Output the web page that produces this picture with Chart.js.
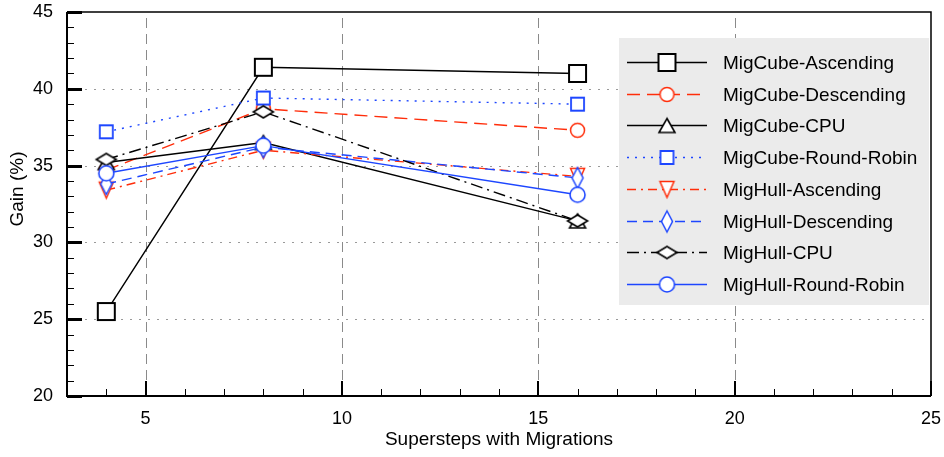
<!DOCTYPE html>
<html>
<head>
<meta charset="utf-8">
<script src="https://cdn.jsdelivr.net/npm/chart.js@4.4.1/dist/chart.umd.min.js"></script>
<style>
  html, body { margin: 0; padding: 0; background: #fff; }
  #chart { display: block; }
</style>
</head>
<body>
<canvas id="chart" width="944" height="457"></canvas>
<script>
// data
const steps = [4, 8, 16];
const seriesNames = [
    'MigCube-Ascending', 'MigCube-Descending', 'MigCube-CPU', 'MigCube-Round-Robin',
    'MigHull-Ascending', 'MigHull-Descending', 'MigHull-CPU', 'MigHull-Round-Robin'
];
const migCubeAscending = [25.5, 41.4, 41.0];
const migCubeDescending = [34.7, 38.7, 37.3];
const migCubeCpu = [35.2, 36.5, 31.4];
const migCubeRoundRobin = [37.2, 39.4, 39.0];
const migHullAscending = [33.4, 36.0, 34.3];
const migHullDescending = [33.8, 36.2, 34.2];
const migHullCpu = [35.4, 38.5, 31.4];
const migHullRoundRobin = [34.5, 36.3, 33.1];
const xTickValues = [5, 10, 15, 20, 25];
const yTickValues = [20, 25, 30, 35, 40, 45];
const xTitle = 'Supersteps with Migrations';
const yTitle = 'Gain (%)';

const allSeries = [
    migCubeAscending, migCubeDescending, migCubeCpu, migCubeRoundRobin,
    migHullAscending, migHullDescending, migHullCpu, migHullRoundRobin
];

const BLACK = '#000000';
const RED = '#ff2d0a';
const BLUE = '#1d46ff';
const FONT = '"Liberation Sans", Arial, Helvetica, sans-serif';

// small canvases used as point styles (and again in the legend)
const makeMarker = (shape, w, h, color, lw) => {
    const c = document.createElement('canvas');
    c.width = Math.ceil(w + lw * 2 + 2);
    c.height = Math.ceil(h + lw * 2 + 2);
    const g = c.getContext('2d');
    g.translate(c.width / 2, c.height / 2);
    g.beginPath();
    if (shape === 'square') {
        g.rect(-w / 2, -h / 2, w, h);
    } else if (shape === 'circle') {
        g.ellipse(0, 0, w / 2, h / 2, 0, 0, Math.PI * 2);
    } else if (shape === 'up') {
        g.moveTo(0, -h / 2); g.lineTo(w / 2, h / 2); g.lineTo(-w / 2, h / 2); g.closePath();
    } else if (shape === 'down') {
        g.moveTo(0, h / 2); g.lineTo(w / 2, -h / 2); g.lineTo(-w / 2, -h / 2); g.closePath();
    } else if (shape === 'diamond') {
        g.moveTo(0, -h / 2); g.lineTo(w / 2, 0); g.lineTo(0, h / 2); g.lineTo(-w / 2, 0); g.closePath();
    }
    g.fillStyle = '#ffffff';
    g.fill();
    g.lineWidth = lw;
    g.strokeStyle = color;
    g.stroke();
    return c;
};

const seriesStyles = [
    { color: BLACK, dash: [], marker: makeMarker('square', 17, 17, BLACK, 2) },
    { color: RED, dash: [13, 7], marker: makeMarker('circle', 14, 14, RED, 1.5) },
    { color: BLACK, dash: [], marker: makeMarker('up', 16, 14, BLACK, 1.6) },
    { color: BLUE, dash: [2, 6], marker: makeMarker('square', 13, 13, BLUE, 1.8) },
    { color: RED, dash: [9, 5, 2, 5], marker: makeMarker('down', 14, 16, RED, 1.5) },
    { color: BLUE, dash: [10, 6], marker: makeMarker('diamond', 11, 21, BLUE, 1.5) },
    { color: BLACK, dash: [12, 5, 2, 5], marker: makeMarker('diamond', 20, 12, BLACK, 1.6) },
    { color: BLUE, dash: [], marker: makeMarker('circle', 15, 15, BLUE, 1.6) }
];

const datasets = allSeries.map((values, i) => ({
    label: seriesNames[i],
    data: steps.map((x, j) => ({ x: x, y: values[j] })),
    borderColor: seriesStyles[i].color,
    borderWidth: 1.4,
    borderDash: seriesStyles[i].dash,
    pointStyle: seriesStyles[i].marker,
    pointRadius: 5,
    fill: false,
    tension: 0,
    clip: false,
    order: allSeries.length - 1 - i
}));

// grid, ticks and the box around the plot
const framePlugin = {
    id: 'frame',
    beforeDatasetsDraw(chart) {
        const { ctx, chartArea: a, scales: { x, y } } = chart;
        ctx.save();
        ctx.strokeStyle = '#8a8a8a';
        ctx.lineWidth = 1;
        ctx.setLineDash([10, 6]);
        xTickValues.filter(v => v < x.max).forEach(v => {
            const px = Math.round(x.getPixelForValue(v)) + 0.5;
            ctx.beginPath(); ctx.moveTo(px, a.bottom); ctx.lineTo(px, a.top); ctx.stroke();
        });
        ctx.strokeStyle = '#9a9a9a';
        ctx.setLineDash([2, 7]);
        yTickValues.filter(v => v > y.min && v < y.max).forEach(v => {
            const py = Math.round(y.getPixelForValue(v)) + 0.5;
            ctx.beginPath(); ctx.moveTo(a.left, py); ctx.lineTo(a.right, py); ctx.stroke();
        });
        ctx.setLineDash([]);

        ctx.strokeStyle = BLACK;
        ctx.lineWidth = 1;
        for (let v = Math.ceil(x.min); v <= x.max; v++) {
            if (v % 5 === 0) continue;
            const px = Math.round(x.getPixelForValue(v)) + 0.5;
            ctx.beginPath(); ctx.moveTo(px, a.bottom); ctx.lineTo(px, a.bottom - 7); ctx.stroke();
        }
        for (let v = y.min + 1; v < y.max; v++) {
            if (v % 5 === 0) continue;
            const py = Math.round(y.getPixelForValue(v)) + 0.5;
            ctx.beginPath(); ctx.moveTo(a.left, py); ctx.lineTo(a.left + 7, py); ctx.stroke();
        }
        ctx.lineWidth = 3;
        yTickValues.forEach(v => {
            const py = Math.round(y.getPixelForValue(v)) + 0.5;
            ctx.beginPath(); ctx.moveTo(a.left, py); ctx.lineTo(a.left + 15, py); ctx.stroke();
        });
        ctx.lineWidth = 2;
        xTickValues.forEach(v => {
            const px = Math.round(x.getPixelForValue(v));
            ctx.beginPath(); ctx.moveTo(px, a.bottom); ctx.lineTo(px, a.bottom - 15); ctx.stroke();
        });

        ctx.lineWidth = 1.5;
        ctx.beginPath();
        ctx.moveTo(a.left, a.top); ctx.lineTo(a.right, a.top); ctx.lineTo(a.right, a.bottom);
        ctx.stroke();
        ctx.lineWidth = 2;
        ctx.beginPath();
        ctx.moveTo(a.left, a.top); ctx.lineTo(a.left, a.bottom); ctx.lineTo(a.right, a.bottom);
        ctx.stroke();
        ctx.restore();
    },
    afterDraw(chart) {
        const { ctx } = chart;
        ctx.save();
        // legend box
        ctx.fillStyle = '#ebebeb';
        ctx.fillRect(619, 38, 310, 267);
        chart.data.datasets.forEach((ds, i) => {
            const st = seriesStyles[i];
            const ly = Math.round(62 + i * 31.7) + 0.5;
            ctx.strokeStyle = st.color;
            ctx.lineWidth = 1.4;
            ctx.setLineDash(st.dash);
            ctx.beginPath(); ctx.moveTo(627, ly); ctx.lineTo(707, ly); ctx.stroke();
            ctx.setLineDash([]);
            ctx.drawImage(st.marker, 667 - st.marker.width / 2, ly - st.marker.height / 2);
            ctx.fillStyle = BLACK;
            ctx.font = '19px ' + FONT;
            ctx.textAlign = 'left';
            ctx.textBaseline = 'middle';
            ctx.fillText(ds.label, 723, ly + 1);
        });
        // y axis title
        ctx.translate(18, 189);
        ctx.rotate(-Math.PI / 2);
        ctx.font = '19px ' + FONT;
        ctx.textAlign = 'center';
        ctx.textBaseline = 'middle';
        ctx.fillStyle = BLACK;
        ctx.fillText(yTitle, 0, 0);
        ctx.restore();
    }
};

new Chart(document.getElementById('chart').getContext('2d'), {
    type: 'line',
    data: { datasets: datasets },
    plugins: [framePlugin],
    options: {
        responsive: false,
        animation: false,
        events: [],
        layout: { padding: { left: 0, right: 13, top: 12, bottom: 0 } },
        plugins: {
            legend: { display: false },
            tooltip: { enabled: false }
        },
        scales: {
            x: {
                type: 'linear',
                min: 3,
                max: 25,
                afterBuildTicks: s => { s.ticks = xTickValues.map(v => ({ value: v })); },
                afterFit: s => { s.height = 61; s.paddingLeft = 0; s.paddingRight = 0; },
                grid: { display: false, drawTicks: false },
                border: { display: false },
                ticks: {
                    font: { family: FONT, size: 18 },
                    color: BLACK,
                    padding: 12,
                    maxRotation: 0,
                    autoSkip: false
                },
                title: {
                    display: true,
                    text: xTitle,
                    font: { family: FONT, size: 19 },
                    color: BLACK,
                    padding: { top: 0, bottom: 6 }
                }
            },
            y: {
                type: 'linear',
                min: 20,
                max: 45,
                afterBuildTicks: s => { s.ticks = yTickValues.map(v => ({ value: v })); },
                afterFit: s => { s.width = 67; s.paddingTop = 0; s.paddingBottom = 0; },
                grid: { display: false, drawTicks: false },
                border: { display: false },
                ticks: {
                    font: { family: FONT, size: 18 },
                    color: BLACK,
                    padding: 14
                }
            }
        }
    }
});
</script>
</body>
</html>
